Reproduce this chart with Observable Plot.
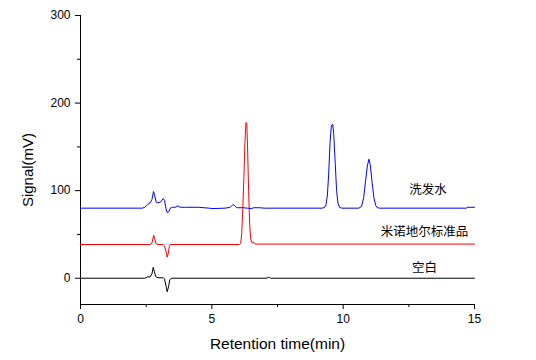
<!DOCTYPE html>
<html>
<head>
<meta charset="utf-8">
<script src="https://cdn.jsdelivr.net/npm/d3@7"></script>
<script src="https://cdn.jsdelivr.net/npm/@observablehq/plot@0.6"></script>
<style>
  html, body { margin: 0; padding: 0; background: #fff; }
  #chart svg { display: block; }
</style>
</head>
<body>
<div id="chart"></div>
<script>
// Retention time (min) and signal (mV) for each chromatogram
const shampooTime = [0, 2.35, 2.45, 2.55, 2.65, 2.72, 2.78, 2.82, 2.88, 2.95, 3.05, 3.15, 3.2, 3.25, 3.3, 3.36, 3.42, 3.5, 3.6, 3.7, 3.8, 4.0, 4.5, 4.9, 5.0, 5.5, 5.7, 5.8, 5.87, 5.95, 6.2, 6.35, 6.5, 6.6, 6.8, 7.0, 9.2, 9.3, 9.35, 9.4, 9.45, 9.5, 9.55, 9.6, 9.64, 9.7, 9.75, 9.8, 9.86, 9.95, 10.6, 10.7, 10.78, 10.85, 10.92, 10.98, 11.03, 11.1, 11.17, 11.24, 11.3, 11.4, 14.7, 14.72, 15];
const shampooSignal = [80, 80, 81, 84, 86, 90, 99, 95, 87, 86, 87, 91, 89, 80, 75, 76, 80, 81, 81, 82.5, 81, 81, 81, 80, 79.5, 80, 81, 84, 83, 80.5, 80.5, 80, 79.5, 80.5, 80.5, 80, 80, 81, 84, 95, 120, 155, 174, 176, 165, 130, 100, 86, 81, 80, 80, 82, 92, 110, 128, 136, 130, 110, 92, 83, 80.5, 80, 80, 81, 81];

const standardTime = [0, 2.65, 2.72, 2.76, 2.79, 2.83, 2.88, 2.95, 3.15, 3.2, 3.26, 3.3, 3.34, 3.38, 3.42, 6.05, 6.1, 6.14, 6.18, 6.22, 6.26, 6.3, 6.33, 6.36, 6.4, 6.44, 6.48, 6.52, 6.6, 6.65, 15];
const standardSignal = [38.5, 38.5, 40, 46, 49, 44, 39.5, 38.5, 38.5, 37, 30, 24, 28, 36, 38.5, 38.5, 40, 52, 80, 115, 155, 178, 177, 150, 100, 62, 45, 41, 41, 39, 39];

const blankTime = [0, 2.45, 2.55, 2.65, 2.72, 2.77, 2.81, 2.86, 2.95, 3.15, 3.2, 3.25, 3.3, 3.35, 3.4, 3.46, 7.1, 7.14, 7.2, 7.24, 15];
const blankSignal = [0, 0, 1.5, 1.5, 5, 12.5, 8, 2, 0.5, 0.5, -1, -8, -15.5, -10, -2, 0, 0, 1, 1, 0, 0];

const seriesNames = ["洗发水", "米诺地尔标准品", "空白"];
const seriesColors = ["#0000ff", "#ff0000", "#000000"];
const labelTime = [13.23, 13.1, 13.1];
const labelSignal = [100.6, 52.6, 11.4];

const xMajorTicks = [0, 5, 10, 15];
const xMinorTicks = [2.5, 7.5, 12.5];
const yMajorTicks = [0, 100, 200, 300];
const yMinorTicks = [50, 150, 250];

const toRows = (t, v) => t.map((d, i) => ({t: d, v: v[i]}));
const shampoo = toRows(shampooTime, shampooSignal);
const standard = toRows(standardTime, standardSignal);
const blank = toRows(blankTime, blankSignal);
const labels = seriesNames.map((name, i) => ({name, t: labelTime[i], v: labelSignal[i]}));

const font = "'Liberation Sans', Arial, sans-serif";

const chart = Plot.plot({
  width: 536,
  height: 360,
  marginLeft: 80,
  marginRight: 62,
  marginTop: 15,
  marginBottom: 56,
  style: {fontFamily: font, fontSize: "12px", color: "#000", background: "#fff"},
  x: {domain: [0, 15]},
  y: {domain: [-30, 300]},
  marks: [
    Plot.ruleX([0], {stroke: "#000", strokeWidth: 1}),
    Plot.ruleY([-30], {stroke: "#000", strokeWidth: 1}),
    Plot.axisX(xMajorTicks, {tickSize: 5, tickPadding: 5, label: null, fontSize: 12}),
    Plot.axisX(xMinorTicks, {tickSize: 3, text: null, label: null}),
    Plot.axisY(yMajorTicks, {tickSize: 5, tickPadding: 5, label: null, fontSize: 12}),
    Plot.axisY(yMinorTicks, {tickSize: 3, text: null, label: null}),
    Plot.line(blank, {x: "t", y: "v", stroke: seriesColors[2], strokeWidth: 1}),
    Plot.line(standard, {x: "t", y: "v", stroke: seriesColors[1], strokeWidth: 1}),
    Plot.line(shampoo, {x: "t", y: "v", stroke: seriesColors[0], strokeWidth: 1}),
    Plot.text(labels, {x: "t", y: "v", text: "name", fontSize: 12.5, fill: "#000",
      fontFamily: "'Noto Sans CJK SC', sans-serif", style: "letter-spacing:1px"}),
    Plot.text(["Retention time(min)"], {frameAnchor: "bottom", dy: 40, lineAnchor: "middle", textAnchor: "middle", fontSize: 15.5, fill: "#000"}),
    Plot.text(["Signal(mV)"], {frameAnchor: "left", dx: -52, dy: 10, rotate: -90, textAnchor: "middle", lineAnchor: "middle", fontSize: 15, fill: "#000"})
  ]
});
document.getElementById("chart").appendChild(chart);
</script>
</body>
</html>
